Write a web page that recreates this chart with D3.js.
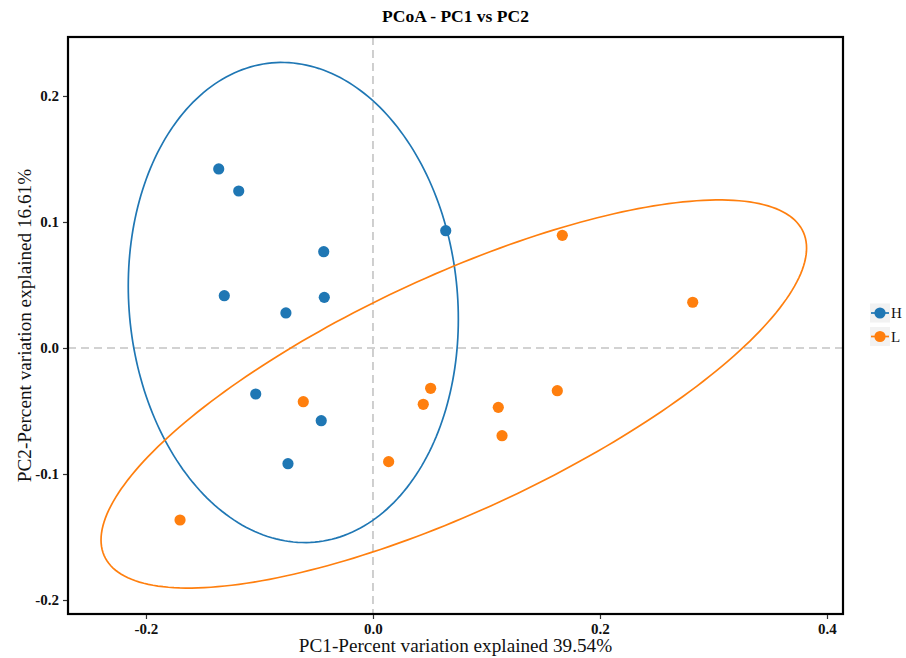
<!DOCTYPE html>
<html><head><meta charset="utf-8">
<script src="https://cdn.jsdelivr.net/npm/d3@7"></script>
<style>
body{margin:0;background:#fff;}
text{font-family:"Liberation Serif","Times New Roman",serif;}
</style>
</head><body>
<svg id="c" width="906" height="658"></svg>
<script>
// ---- data ----
const groups = ["H", "L"];
const groupColors = ["#1f77b4", "#ff7f0e"];
const hPC1 = [-0.1359, -0.1183, 0.0641, -0.0434, -0.1310, -0.0429, -0.0767, -0.1033, -0.0456, -0.0749];
const hPC2 = [0.1421, 0.1246, 0.0931, 0.0764, 0.0415, 0.0402, 0.0278, -0.0365, -0.0577, -0.0918];
const lPC1 = [0.1668, 0.2817, 0.1624, 0.1104, 0.1137, 0.0508, 0.0443, 0.0138, -0.0614, -0.1700];
const lPC2 = [0.0894, 0.0363, -0.0339, -0.0471, -0.0696, -0.0320, -0.0447, -0.0902, -0.0426, -0.1365];
// confidence ellipses (per group): centre, half-extents and correlation
const ellCenterX = [-0.0702, 0.0712];
const ellCenterY = [0.0361, -0.0365];
const ellRadiusX = [0.1454, 0.3108];
const ellRadiusY = [0.1905, 0.1540];
const ellRho = [-0.069, 0.752];
const xTicks = [-0.2, 0.0, 0.2, 0.4];
const yTicks = [-0.2, -0.1, 0.0, 0.1, 0.2];
const xLimits = [-0.2687, 0.4141];
const yLimits = [-0.2111, 0.2468];
const titleText = "PCoA - PC1 vs PC2";
const xLabel = "PC1-Percent variation explained 39.54%";
const yLabel = "PC2-Percent variation explained 16.61%";

// ---- layout ----
const svg = d3.select("#c");
const L = 68, R = 843, T = 37, B = 614;
const x = d3.scaleLinear().domain(xLimits).range([L, R]);
const y = d3.scaleLinear().domain(yLimits).range([B, T]);

// reference lines
svg.append("line").attr("x1", x(0)).attr("x2", x(0)).attr("y1", T).attr("y2", B)
  .attr("stroke", "#c4c4c4").attr("stroke-width", 1.6).attr("stroke-dasharray", "8,5");
svg.append("line").attr("x1", L).attr("x2", R).attr("y1", y(0)).attr("y2", y(0))
  .attr("stroke", "#c4c4c4").attr("stroke-width", 1.6).attr("stroke-dasharray", "8,5");

// ellipses
svg.append("clipPath").attr("id", "pc").append("rect")
  .attr("x", L).attr("y", T).attr("width", R - L).attr("height", B - T);
const line = d3.line().x(d => x(d[0])).y(d => y(d[1])).curve(d3.curveLinearClosed);
groups.forEach((g, i) => {
  const n = 240, pts = [];
  const s = Math.sqrt(1 - ellRho[i] * ellRho[i]);
  for (let k = 0; k < n; k++) {
    const t = 2 * Math.PI * k / n;
    pts.push([ellCenterX[i] + ellRadiusX[i] * Math.cos(t),
              ellCenterY[i] + ellRadiusY[i] * (ellRho[i] * Math.cos(t) + s * Math.sin(t))]);
  }
  svg.append("path").attr("d", line(pts)).attr("fill", "none")
    .attr("stroke", groupColors[i]).attr("stroke-width", 1.7).attr("clip-path", "url(#pc)");
});

// points
const pc1 = [hPC1, lPC1], pc2 = [hPC2, lPC2];
groups.forEach((g, i) => {
  svg.append("g").selectAll("circle").data(pc1[i].map((v, k) => [v, pc2[i][k]]))
    .join("circle").attr("cx", d => x(d[0])).attr("cy", d => y(d[1])).attr("r", 5.6)
    .attr("fill", groupColors[i]);
});

// frame
svg.append("rect").attr("x", L).attr("y", T).attr("width", R - L).attr("height", B - T)
  .attr("fill", "none").attr("stroke", "#000").attr("stroke-width", 2.2);

// axes
const fmt = d => (Math.abs(d) < 1e-9 ? 0 : d).toFixed(1);
const xa = svg.append("g").attr("transform", `translate(0,${B + 1})`)
  .call(d3.axisBottom(x).tickValues(xTicks).tickFormat(fmt).tickSize(4).tickPadding(4));
const ya = svg.append("g").attr("transform", `translate(${L - 1},0)`)
  .call(d3.axisLeft(y).tickValues(yTicks).tickFormat(fmt).tickSize(4).tickPadding(4));
[xa, ya].forEach(a => {
  a.select(".domain").remove();
  a.selectAll(".tick line").attr("stroke", "#333").attr("stroke-width", 1.2);
  a.selectAll(".tick text").attr("fill", "#111").style("font-size", "15px")
    .style("font-weight", "bold").style("font-family", '"Liberation Serif",serif');
});

// title and labels
svg.append("text").attr("x", (L + R) / 2).attr("y", 22).attr("text-anchor", "middle")
  .style("font-size", "17.5px").style("font-weight", "bold").text(titleText);
svg.append("text").attr("x", (L + R) / 2).attr("y", 652).attr("text-anchor", "middle")
  .style("font-size", "19.2px").attr("fill", "#111").text(xLabel);
svg.append("text").attr("transform", `translate(24,${(T + B) / 2}) rotate(-90)`)
  .attr("text-anchor", "middle").attr("dy", "0.35em")
  .style("font-size", "19.2px").attr("fill", "#111").text(yLabel);

// legend
const lg = svg.append("g");
groups.forEach((g, i) => {
  const cy = 313 + i * 23.5;
  lg.append("rect").attr("x", 870).attr("y", cy - 9.5).attr("width", 20).attr("height", 19)
    .attr("fill", "#f2f2f2");
  lg.append("line").attr("x1", 871).attr("x2", 889).attr("y1", cy).attr("y2", cy)
    .attr("stroke", groupColors[i]).attr("stroke-width", 1.7);
  lg.append("circle").attr("cx", 880).attr("cy", cy).attr("r", 5.6).attr("fill", groupColors[i]);
  lg.append("text").attr("x", 891).attr("y", cy).attr("dy", "0.35em")
    .style("font-size", "15px").attr("fill", "#111").text(g);
});
</script>
</body></html>
